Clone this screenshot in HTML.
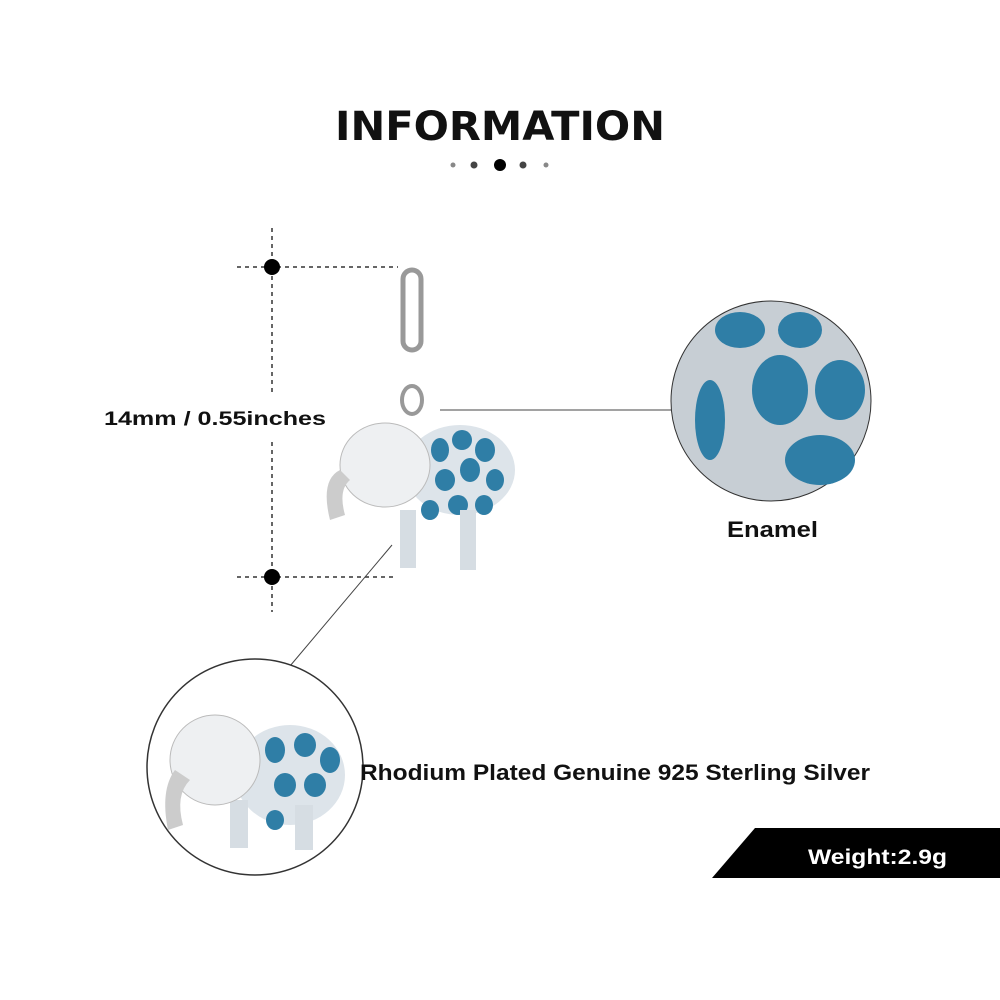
<!DOCTYPE html>
<html><head><style>
body{margin:0;background:#fff;}
svg{display:block}
text{font-family:"Liberation Sans",sans-serif;font-weight:bold}
</style></head><body>
<svg width="1000" height="1000" viewBox="0 0 1000 1000">
<text x="335" y="140" textLength="330" lengthAdjust="spacingAndGlyphs" font-size="40" fill="#111" style="font-family:'DejaVu Sans',sans-serif;font-weight:bold">INFORMATION</text>
<circle cx="453" cy="165" r="2.5" fill="#888"/>
<circle cx="474" cy="165" r="3.5" fill="#444"/>
<circle cx="500" cy="165" r="6" fill="#000"/>
<circle cx="523" cy="165" r="3.5" fill="#444"/>
<circle cx="546" cy="165" r="2.5" fill="#888"/>
<g stroke="#333" stroke-width="1.5" stroke-dasharray="4,4" fill="none">
<line x1="272" y1="228" x2="272" y2="395"/>
<line x1="272" y1="442" x2="272" y2="612"/>
<line x1="237" y1="267" x2="398" y2="267"/>
<line x1="237" y1="577" x2="395" y2="577"/>
</g>
<circle cx="272" cy="267" r="8" fill="#000"/>
<circle cx="272" cy="577" r="8" fill="#000"/>
<text x="104" y="425" font-size="19" textLength="222" lengthAdjust="spacingAndGlyphs" fill="#111">14mm / 0.55inches</text>
<line x1="440" y1="410" x2="676" y2="410" stroke="#444" stroke-width="1"/>
<line x1="290" y1="666" x2="392" y2="545" stroke="#444" stroke-width="1"/>
<g>
<rect x="403" y="270" width="18" height="80" rx="9" fill="none" stroke="#999" stroke-width="5"/>
<ellipse cx="412" cy="400" rx="10" ry="14" fill="none" stroke="#999" stroke-width="4"/>
<ellipse cx="460" cy="470" rx="55" ry="45" fill="#dde4ea"/>
<g fill="#2f7ea6">
<ellipse cx="440" cy="450" rx="9" ry="12"/><ellipse cx="462" cy="440" rx="10" ry="10"/><ellipse cx="485" cy="450" rx="10" ry="12"/>
<ellipse cx="445" cy="480" rx="10" ry="11"/><ellipse cx="470" cy="470" rx="10" ry="12"/><ellipse cx="495" cy="480" rx="9" ry="11"/>
<ellipse cx="430" cy="510" rx="9" ry="10"/><ellipse cx="458" cy="505" rx="10" ry="10"/><ellipse cx="484" cy="505" rx="9" ry="10"/>
</g>
<rect x="400" y="510" width="16" height="58" fill="#d6dde3"/><rect x="460" y="510" width="16" height="60" fill="#d6dde3"/>
<ellipse cx="385" cy="465" rx="45" ry="42" fill="#eef0f2" stroke="#bbb"/>
<path d="M340 470 Q320 480 330 520 L345 515 Q338 490 350 480Z" fill="#ccc"/>
</g>
<circle cx="771" cy="401" r="100" fill="#c7ced4" stroke="#333" stroke-width="1"/>
<g fill="#2f7ea6">
<ellipse cx="780" cy="390" rx="28" ry="35"/><ellipse cx="840" cy="390" rx="25" ry="30"/><ellipse cx="820" cy="460" rx="35" ry="25"/>
<ellipse cx="740" cy="330" rx="25" ry="18"/><ellipse cx="800" cy="330" rx="22" ry="18"/><ellipse cx="710" cy="420" rx="15" ry="40"/>
</g>
<text x="727" y="537" font-size="22" textLength="91" lengthAdjust="spacingAndGlyphs" fill="#111">Enamel</text>
<circle cx="255" cy="767" r="108" fill="#fff" stroke="#333" stroke-width="1.5"/>
<ellipse cx="290" cy="775" rx="55" ry="50" fill="#dde4ea"/>
<g fill="#2f7ea6">
<ellipse cx="275" cy="750" rx="10" ry="13"/><ellipse cx="305" cy="745" rx="11" ry="12"/><ellipse cx="330" cy="760" rx="10" ry="13"/>
<ellipse cx="285" cy="785" rx="11" ry="12"/><ellipse cx="315" cy="785" rx="11" ry="12"/><ellipse cx="275" cy="820" rx="9" ry="10"/>
</g>
<rect x="230" y="800" width="18" height="48" fill="#d6dde3"/><rect x="295" y="805" width="18" height="45" fill="#d6dde3"/>
<ellipse cx="215" cy="760" rx="45" ry="45" fill="#eef0f2" stroke="#bbb"/>
<path d="M175 770 Q160 790 168 830 L183 825 Q175 795 190 780Z" fill="#ccc"/>
<text x="360" y="780" font-size="22" textLength="510" lengthAdjust="spacingAndGlyphs" fill="#111">Rhodium Plated Genuine 925 Sterling Silver</text>
<polygon points="755,828 1000,828 1000,878 712,878" fill="#000"/>
<text x="808" y="864" font-size="21" textLength="139" lengthAdjust="spacingAndGlyphs" fill="#fff">Weight:2.9g</text>
</svg>
</body></html>
